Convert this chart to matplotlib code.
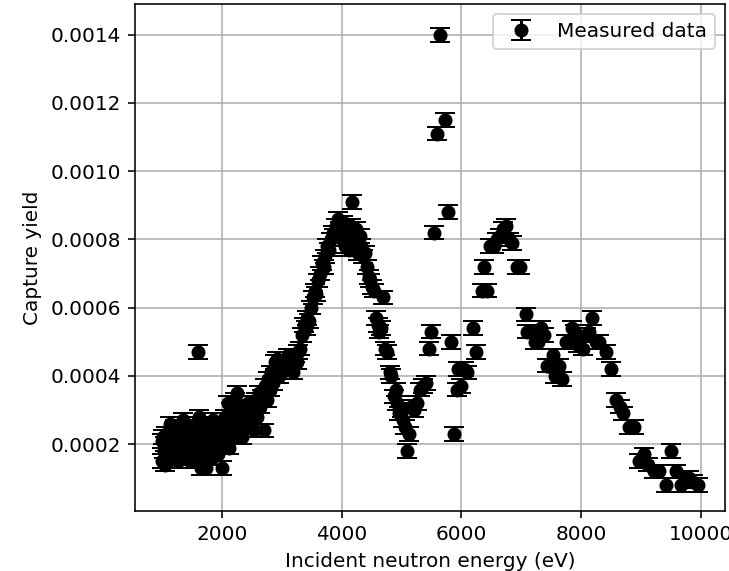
import matplotlib
matplotlib.use("Agg")
import matplotlib.pyplot as plt

energy_low = [1000, 1010, 1020, 1035, 1045, 1060, 1070, 1085, 1100, 1110, 1125, 1140, 1150, 1165, 1180,
              1195, 1210, 1225, 1240, 1255, 1270, 1285, 1300, 1320, 1335, 1350, 1365, 1380, 1400, 1415,
              1430, 1445, 1460, 1475, 1490, 1505, 1520, 1540, 1555, 1570, 1590, 1600, 1610, 1625, 1640,
              1655, 1670, 1690, 1705, 1720, 1740, 1755, 1770, 1790, 1810, 1825, 1845, 1860, 1880, 1900,
              1915, 1935, 1950, 1970, 1985, 2000]
yield_low = [0.00021, 0.00015, 0.00022, 0.00018, 0.00014, 0.00020, 0.00023, 0.00017, 0.00019, 0.00015,
             0.00022, 0.00026, 0.00018, 0.00020, 0.00016, 0.00023, 0.00019, 0.00025, 0.00017, 0.00021,
             0.00015, 0.00024, 0.00019, 0.00022, 0.00017, 0.00027, 0.00020, 0.00016, 0.00023, 0.00019,
             0.00025, 0.00017, 0.00021, 0.00015, 0.00024, 0.00019, 0.00022, 0.00018, 0.00026, 0.00020,
             0.00016, 0.00047, 0.00023, 0.00028, 0.00019, 0.00013, 0.00024, 0.00021, 0.00017, 0.00026,
             0.00013, 0.00022, 0.00019, 0.00025, 0.00018, 0.00023, 0.00016, 0.00027, 0.00021, 0.00019,
             0.00024, 0.00017, 0.00026, 0.00022, 0.00020, 0.00013]

energy_mid = [2020, 2040, 2060, 2080, 2100, 2120, 2140, 2160, 2180, 2200, 2220, 2240, 2260, 2280, 2300,
              2320, 2340, 2360, 2380, 2400, 2420, 2445, 2470, 2495, 2520, 2545, 2570, 2595, 2620, 2645,
              2670, 2700, 2725, 2750, 2775, 2800, 2830, 2860, 2890, 2920, 2950, 2980,
              3010, 3040, 3070, 3100, 3130, 3160, 3190, 3220, 3250, 3280, 3310, 3340, 3370, 3400, 3430,
              3460, 3490, 3520, 3550, 3580, 3610, 3640, 3670, 3700, 3730, 3760, 3790, 3820, 3850, 3880,
              3910, 3940, 3970, 4000, 4030, 4060, 4090, 4120, 4150, 4180, 4210, 4240, 4270, 4300, 4330,
              4360, 4390, 4420, 4450, 4480, 4510, 4540, 4570, 4600, 4630, 4660, 4690, 4720, 4760, 4800,
              4830, 4870, 4900, 4930, 4960, 5000, 5030, 5060, 5090, 5120, 5160, 5200, 5250, 5300, 5350,
              5400]
yield_mid = [0.00025, 0.00021, 0.00028, 0.00023, 0.00032, 0.00019, 0.00026, 0.00030, 0.00022, 0.00027,
             0.00033, 0.00024, 0.00035, 0.00029, 0.00025, 0.00031, 0.00022, 0.00027, 0.00030, 0.00025,
             0.00028, 0.00032, 0.00029, 0.00026, 0.00030, 0.00024, 0.00033, 0.00028, 0.00035, 0.00031,
             0.00034, 0.00024, 0.00037, 0.00033, 0.00039, 0.00036, 0.00041, 0.00038, 0.00044, 0.00045,
             0.00040, 0.00043,
             0.00041, 0.00044, 0.00042, 0.00046, 0.00043, 0.00045, 0.00041, 0.00046, 0.00044, 0.00047,
             0.00048, 0.00052, 0.00055, 0.00054, 0.00057, 0.00056, 0.00060, 0.00063, 0.00065, 0.00064,
             0.00068, 0.00070, 0.00073, 0.00072, 0.00075, 0.00078, 0.00077, 0.00080, 0.00082, 0.00081,
             0.00084, 0.00086, 0.00083, 0.00080, 0.00085, 0.00078, 0.00082, 0.00077, 0.00084, 0.00091,
             0.00079, 0.00083, 0.00076, 0.00081, 0.00078, 0.00075, 0.00076, 0.00072, 0.00069, 0.00068,
             0.00066, 0.00065, 0.00057, 0.00055, 0.00053, 0.00054, 0.00063, 0.00048, 0.00047, 0.00041,
             0.00040, 0.00034, 0.00036, 0.00032, 0.00029, 0.00030, 0.00027, 0.00025, 0.00018, 0.00023,
             0.00031, 0.00030, 0.00032, 0.00036, 0.00037, 0.00038]

energy_high = [5460, 5500, 5550, 5600, 5650, 5720, 5770, 5830, 5880, 5920, 5950, 6000, 6050, 6100,
               6200, 6250, 6350, 6380, 6420, 6480, 6550, 6600, 6650, 6700, 6750, 6800, 6850, 6920,
               6970, 7070, 7100, 7160, 7230, 7270, 7330, 7370, 7420, 7460, 7520, 7560, 7620, 7670,
               7750, 7800, 7850, 7900, 7950, 8020, 8080, 8130, 8180, 8250, 8300, 8420, 8500, 8580,
               8650, 8700, 8800, 8880, 8970, 9050, 9120, 9220, 9300, 9420, 9500, 9580, 9670, 9730,
               9800, 9870, 9950]
yield_high = [0.00048, 0.00053, 0.00082, 0.00111, 0.00140, 0.00115, 0.00088, 0.00050, 0.00023, 0.00036,
              0.00042, 0.00037, 0.00042, 0.00041, 0.00054, 0.00047, 0.00065, 0.00072, 0.00065, 0.00078,
              0.00078, 0.00080, 0.00081, 0.00083, 0.00084, 0.00080, 0.00079, 0.00072, 0.00072, 0.00058,
              0.00053, 0.00053, 0.00050, 0.00050, 0.00054, 0.00052, 0.00043, 0.00043, 0.00046, 0.00040,
              0.00043, 0.00039, 0.00050, 0.00050, 0.00054, 0.00053, 0.00049, 0.00048, 0.00052, 0.00053,
              0.00057, 0.00050, 0.00050, 0.00047, 0.00042, 0.00033, 0.00031, 0.00029, 0.00025, 0.00025,
              0.00015, 0.00017, 0.00014, 0.00012, 0.00012, 0.00008, 0.00018, 0.00012, 0.00008, 0.00010,
              0.00010, 0.00009, 0.00008]

energy = energy_low + energy_mid + energy_high
capture_yield = yield_low + yield_mid + yield_high
yield_error = 0.00002

fig = plt.figure(figsize=(729 / 144, 571 / 144), dpi=144)
ax = fig.add_axes([135 / 729, (571 - 511) / 571, 590 / 729, 507 / 571])
ax.errorbar(energy, capture_yield, yerr=yield_error, fmt='o', color='black',
            ecolor='black', capsize=5, label='Measured data')
ax.set_ylim(0.000004, 0.00149)
ax.set_xlabel('Incident neutron energy (eV)')
ax.set_ylabel('Capture yield')
ax.grid(True)
ax.legend(loc='upper right')
fig.savefig('out.png', dpi=144)
